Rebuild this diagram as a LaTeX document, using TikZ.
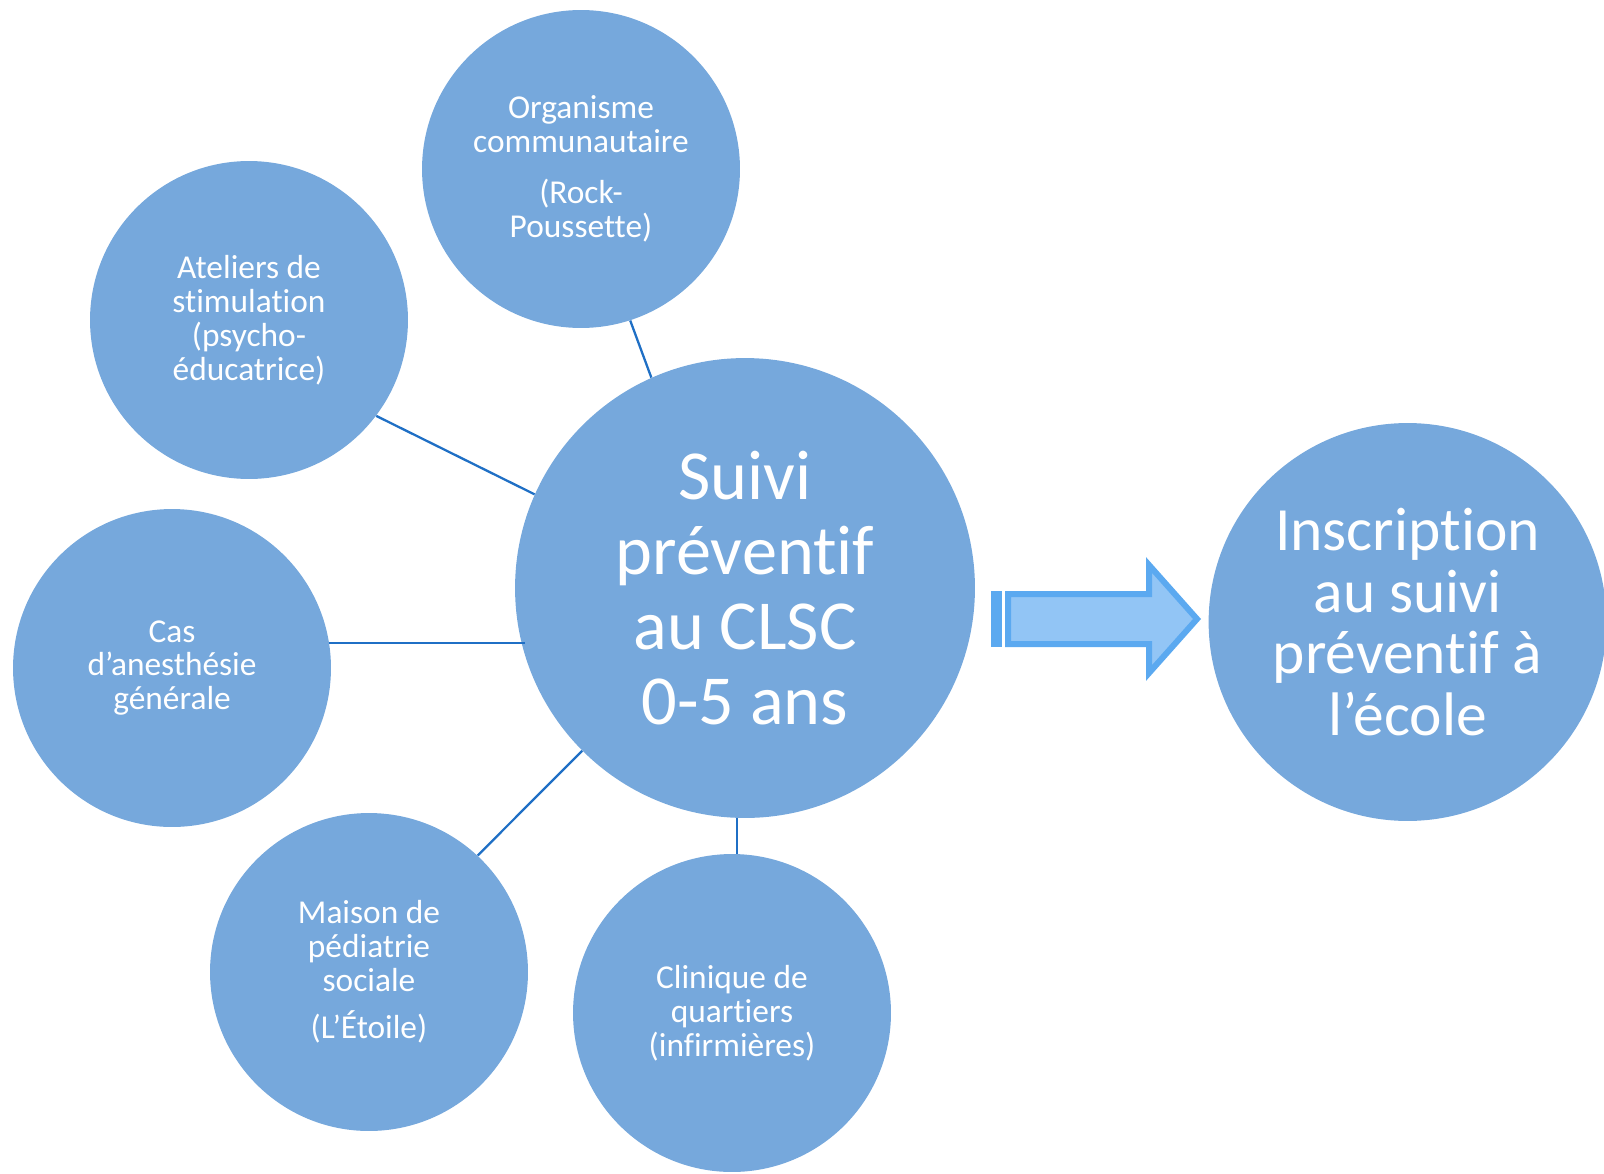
\documentclass[tikz,border=0pt]{standalone}
\usepackage{fontspec}
\setmainfont{Carlito}[Ligatures={NoCommon}]
\usepackage{tikz}
\usetikzlibrary{positioning}

\definecolor{bubble}{RGB}{118,168,220}
\definecolor{linkblue}{RGB}{31,111,197}
\definecolor{arrowedge}{RGB}{91,169,240}
\definecolor{arrowfill}{RGB}{146,197,245}

\begin{document}
\begin{tikzpicture}[
        x=0.02cm, y=-0.02cm,
        every node/.style={circle, fill=bubble, text=white, align=center, inner sep=0pt},
        small/.style={minimum size=6.36cm, font=\fontsize{19}{19.3}\selectfont},
        link/.style={draw=linkblue, line width=1.3pt},
        bigarrow/.style={draw=arrowedge, fill=arrowfill, line width=0.12cm, line join=miter}
    ]
    \useasboundingbox (0,0) rectangle (1604,1173);

    % Central Node
    \node[minimum size=9.2cm, font=\fontsize{40}{42.7}\selectfont] (cen) at (745,588)
        {Suivi\\préventif\\au CLSC\\0-5 ans};

    % Outer Nodes
    \node[small] (org) at (581,169) {Organisme\\communautaire\\[0.35cm](Rock-\\Poussette)};
    \node[small] (ate) at (249,320) {Ateliers de\\stimulation\\(psycho-\\éducatrice)};
    \node[small] (cas) at (172,668) {Cas\\d’anesthésie\\générale};
    \node[small] (mai) at (369,972) {Maison de\\pédiatrie\\sociale\\[0.27cm](L’Étoile)};
    \node[small] (cli) at (732,1013) {Clinique de\\quartiers\\(infirmières)};

    % Right Node
    \node[minimum size=7.96cm, font=\fontsize{35}{35}\selectfont, right=4.66cm of cen, yshift=-0.68cm] (ins)
        {Inscription\\au suivi\\préventif à\\l’école};

    % Links
    \draw[link] (org.-72) -- (cen.114);
    \draw[link] (ate.-37) -- (cen.156);
    \draw[link] (cas.9.3) -- ([xshift=0.2cm]cas.9.3 -| cen.west);
    \draw[link] (mai.47) -- (cen.225);
    \draw[link] (cen.268) -- (cen.268 |- cli.north);

    % Arrow
    \fill[arrowedge] (991,591) rectangle (1002,647);
    \draw[bigarrow] (1008,594) -- (1149,594) -- (1149,565) -- (1197,619)
        -- (1149,673) -- (1149,644) -- (1008,644) -- cycle;

\end{tikzpicture}
\end{document}
